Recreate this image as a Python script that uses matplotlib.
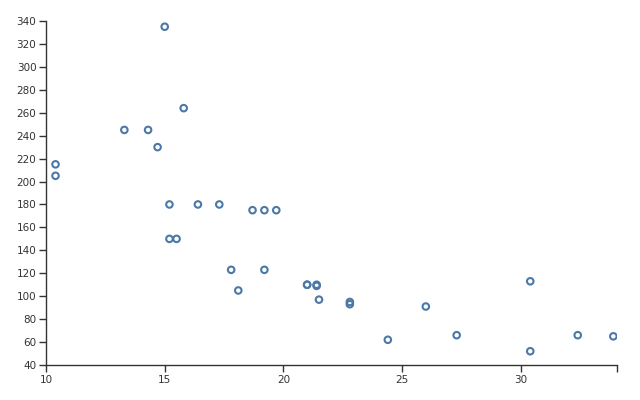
import matplotlib.pyplot as plt

# mpg vs horsepower (mtcars)
mpg = [21.0, 21.0, 22.8, 21.4, 18.7, 18.1, 14.3, 24.4, 22.8, 19.2, 17.8,
       16.4, 17.3, 15.2, 10.4, 10.4, 14.7, 32.4, 30.4, 33.9, 21.5, 15.5,
       15.2, 13.3, 19.2, 27.3, 26.0, 30.4, 15.8, 19.7, 15.0, 21.4]
hp = [110, 110, 93, 110, 175, 105, 245, 62, 95, 123, 123,
      180, 180, 180, 205, 215, 230, 66, 52, 65, 97, 150,
      150, 245, 175, 66, 91, 113, 264, 175, 335, 109]

x_ticks = [10, 15, 20, 25, 30]
y_ticks = list(range(40, 341, 20))

fig = plt.figure(figsize=(6.4, 4.0), dpi=100)
ax = fig.add_axes([0.0719, 0.0875, 0.892, 0.86])

ax.scatter(mpg, hp, s=22, facecolors='none', edgecolors='#4c78a8',
           linewidths=1.5, zorder=3)

ax.set_xlim(10, 34.05)
ax.set_ylim(40, 340)
ax.set_xticks(x_ticks + [34.05])
ax.set_xticklabels([str(t) for t in x_ticks] + [''])
ax.set_yticks(y_ticks)

for s in ['top', 'right']:
    ax.spines[s].set_visible(False)
for s in ['left', 'bottom']:
    ax.spines[s].set_color('#333333')
    ax.spines[s].set_linewidth(1.0)

ax.tick_params(length=5, width=1, color='#333333', labelsize=7.5,
               labelcolor='#333333', pad=2)

plt.savefig('out.png', dpi=100)
